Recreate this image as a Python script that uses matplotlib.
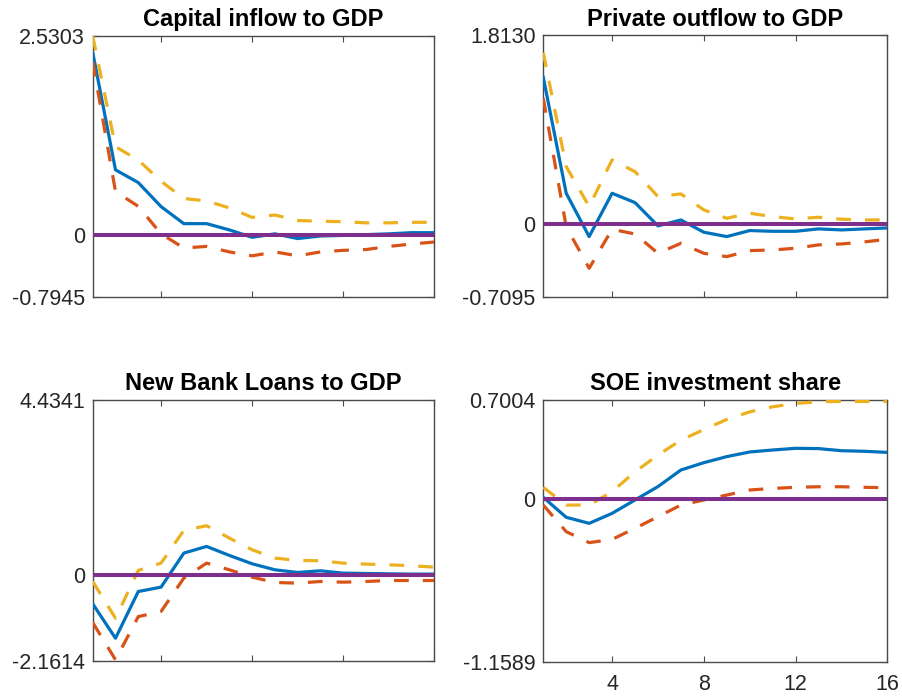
import matplotlib
matplotlib.use("Agg")
import matplotlib.pyplot as plt
import numpy as np

plt.rcParams['font.family'] = ['Liberation Sans', 'DejaVu Sans']

horizon = np.arange(1, 17)

titles = ["Capital inflow to GDP", "Private outflow to GDP",
          "New Bank Loans to GDP", "SOE investment share"]

y_upper_lim = [2.5303, 1.8130, 4.4341, 0.7004]
y_lower_lim = [-0.7945, -0.7095, -2.1614, -1.1589]

# median responses
capital_inflow_med = [2.32, 0.825, 0.663, 0.357, 0.140, 0.140, 0.06, -0.034,
                      0.01, -0.05, -0.017, -0.01, 0.0, 0.01, 0.025, 0.025]
private_outflow_med = [1.409, 0.292, -0.125, 0.292, 0.202, -0.022, 0.035, -0.083,
                       -0.125, -0.067, -0.074, -0.074, -0.051, -0.061, -0.051, -0.042]
bank_loans_med = [-0.717, -1.586, -0.405, -0.295, 0.565, 0.734, 0.506, 0.295,
                  0.143, 0.076, 0.118, 0.059, 0.05, 0.042, 0.034, 0.034]
soe_share_med = [0.009, -0.133, -0.176, -0.105, -0.01, 0.085, 0.203, 0.255,
                 0.298, 0.331, 0.345, 0.357, 0.355, 0.340, 0.336, 0.328]

# upper bands
capital_inflow_hi = [2.53, 1.12, 0.95, 0.68, 0.46, 0.43, 0.34, 0.22,
                     0.25, 0.18, 0.17, 0.165, 0.15, 0.15, 0.157, 0.157]
private_outflow_hi = [1.646, 0.549, 0.164, 0.613, 0.50, 0.26, 0.286, 0.132,
                      0.051, 0.10, 0.067, 0.045, 0.061, 0.042, 0.035, 0.035]
bank_loans_hi = [-0.152, -1.08, 0.127, 0.312, 1.139, 1.257, 0.945, 0.649,
                 0.439, 0.38, 0.371, 0.312, 0.287, 0.27, 0.245, 0.21]
soe_share_hi = [0.08, -0.046, -0.046, 0.049, 0.19, 0.309, 0.415, 0.49,
                0.562, 0.616, 0.652, 0.676, 0.688, 0.69, 0.69, 0.69]

# lower bands
capital_inflow_lo = [2.2, 0.55, 0.36, 0.01, -0.17, -0.15, -0.22, -0.27,
                     -0.22, -0.27, -0.22, -0.20, -0.19, -0.15, -0.12, -0.094]
private_outflow_lo = [1.207, -0.03, -0.43, -0.055, -0.10, -0.286, -0.19, -0.286,
                      -0.318, -0.26, -0.254, -0.237, -0.205, -0.196, -0.176, -0.151]
bank_loans_lo = [-1.19, -2.13, -1.04, -0.91, -0.067, 0.312, 0.143, -0.042,
                 -0.177, -0.194, -0.152, -0.169, -0.152, -0.127, -0.127, -0.127]
soe_share_lo = [-0.046, -0.235, -0.313, -0.29, -0.211, -0.129, -0.046, -0.01,
                0.025, 0.061, 0.072, 0.08, 0.084, 0.084, 0.08, 0.077]

medians = [capital_inflow_med, private_outflow_med, bank_loans_med, soe_share_med]
uppers = [capital_inflow_hi, private_outflow_hi, bank_loans_hi, soe_share_hi]
lowers = [capital_inflow_lo, private_outflow_lo, bank_loans_lo, soe_share_lo]

x_ticks = [4, 8, 12, 16]

BLUE = '#0072BD'
ORANGE = '#D95319'
YELLOW = '#EDB120'
PURPLE = '#7E2F8E'
FRAME = '#4a4a4a'

fig = plt.figure(figsize=(9.02, 7.0), dpi=100)

positions = [
    [0.1028, 0.5757, 0.3787, 0.3729],
    [0.6023, 0.5753, 0.3814, 0.3743],
    [0.1028, 0.0557, 0.3787, 0.3729],
    [0.6023, 0.0547, 0.3814, 0.3739],
]

lw = 2.3
dash = (4.6, 4.4)

for i in range(4):
    ax = fig.add_axes(positions[i])
    ax.plot(horizon, medians[i], color=BLUE, lw=lw, zorder=3)
    ax.plot(horizon, uppers[i], color=YELLOW, lw=lw, ls='--', dashes=dash, zorder=3)
    ax.plot(horizon, lowers[i], color=ORANGE, lw=lw, ls='--', dashes=dash, zorder=3)
    ax.plot(horizon, np.zeros_like(horizon, dtype=float), color=PURPLE, lw=2.9, zorder=4)

    ax.set_xlim(horizon[0], horizon[-1])
    ax.set_ylim(y_lower_lim[i], y_upper_lim[i])
    ax.set_yticks([y_lower_lim[i], 0, y_upper_lim[i]])
    ax.set_yticklabels(['%.4f' % y_lower_lim[i], '0', '%.4f' % y_upper_lim[i]])
    ax.set_xticks(x_ticks)
    if i == 3:
        ax.set_xticklabels([str(t) for t in x_ticks])
    else:
        ax.set_xticklabels([])

    ax.tick_params(direction='in', length=4.5, width=0.8, color=FRAME,
                   top=True, right=True, labelsize=15.5, labelcolor='#262626')
    ax.tick_params(axis='y', pad=5.5)
    ax.tick_params(axis='x', pad=9)
    for sp in ax.spines.values():
        sp.set_color(FRAME)
        sp.set_linewidth(1.0)

    ax.set_title(titles[i], fontsize=17, fontweight='bold', pad=7, color='black')

fig.savefig('out.png', dpi=100)
